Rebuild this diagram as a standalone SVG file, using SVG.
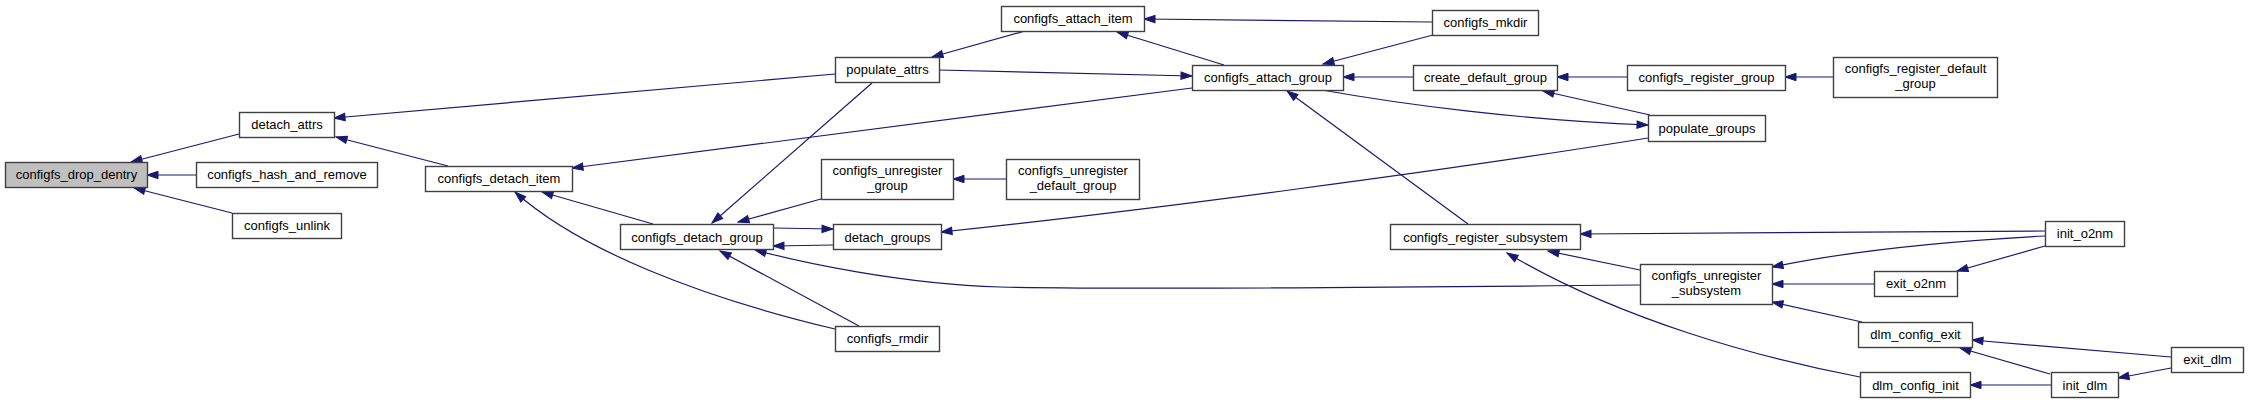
<svg xmlns="http://www.w3.org/2000/svg" width="2248" height="404" viewBox="0 0 2248 404">
<style>
.node rect{fill:#ffffff;stroke:#404040;stroke-width:1.4}
.node rect.hl{fill:#bfbfbf}
.node text{font-family:"Liberation Sans",Arial,Helvetica,sans-serif;font-size:13px;fill:#000000;text-anchor:middle}
.edges path{fill:none;stroke:#191970;stroke-width:1.2;marker-end:url(#ah)}
</style>
<defs>
<marker id="ah" viewBox="0 0 12 9" refX="11.5" refY="4.5" markerWidth="12" markerHeight="9" markerUnits="userSpaceOnUse" orient="auto" overflow="visible">
<path d="M0.5,0.8 L11.5,4.5 L0.5,8.2 Z" fill="#191970" stroke="#191970" stroke-width="1"/>
</marker>
</defs>
<rect x="0" y="0" width="2248" height="404" fill="#ffffff"/>
<g class="edges" id="edges">
<path d="M239,134 L131,162"/>
<path d="M196,175 L147,175"/>
<path d="M232,213 L134,188"/>
<path d="M835,74 L334,118"/>
<path d="M448,166 L336,137"/>
<path d="M1192,88 L572,168"/>
<path d="M653,224 L542,192"/>
<path d="M835,329 C700,297 580,250 515,192"/>
<path d="M872,83 L712,223"/>
<path d="M821,199 L738,222"/>
<path d="M773,228 L833,229"/>
<path d="M833,245 L773,246"/>
<path d="M1640,285 C1250,289 1100,289 1000,287 C900,284 800,262 755,250"/>
<path d="M859,326 L720,251"/>
<path d="M1006,179 L953,179"/>
<path d="M1432,22 L1144,19"/>
<path d="M1025,31 L932,57"/>
<path d="M1224,65 L1117,32"/>
<path d="M939,70 L1192,76"/>
<path d="M1433,35 L1323,64"/>
<path d="M1413,77 L1343,77"/>
<path d="M1322,90 C1400,104 1520,120 1648,125"/>
<path d="M1468,224 L1287,91"/>
<path d="M1648,138 C1450,170 1150,210 941,232"/>
<path d="M1627,77 L1557,77"/>
<path d="M1833,77 L1785,77"/>
<path d="M1650,115 L1543,91"/>
<path d="M2045,231 L1580,234"/>
<path d="M2045,236 C1950,241 1850,251 1772,267"/>
<path d="M2045,246 L1957,271"/>
<path d="M1874,284 L1772,284"/>
<path d="M1862,322 L1772,302"/>
<path d="M1640,270 L1548,251"/>
<path d="M1860,377 C1760,358 1620,320 1507,253"/>
<path d="M2171,357 L1972,340"/>
<path d="M2050,374 L1960,348"/>
<path d="M2051,385 L1970,385"/>
<path d="M2171,368 L2118,378"/>
</g>
<g class="node" id="configfs_drop_dentry"><rect class="hl" x="5.5" y="162.5" width="142" height="25"/><text x="76.5" y="179">configfs_drop_dentry</text></g>
<g class="node" id="detach_attrs"><rect x="239.5" y="112.5" width="95" height="25"/><text x="287" y="129">detach_attrs</text></g>
<g class="node" id="configfs_hash_and_remove"><rect x="196.5" y="162.5" width="181" height="25"/><text x="287" y="179">configfs_hash_and_remove</text></g>
<g class="node" id="configfs_unlink"><rect x="232.5" y="213.5" width="109" height="25"/><text x="287" y="230">configfs_unlink</text></g>
<g class="node" id="configfs_detach_item"><rect x="425.5" y="166.5" width="147" height="25"/><text x="499" y="183">configfs_detach_item</text></g>
<g class="node" id="populate_attrs"><rect x="835.5" y="57.5" width="104" height="25"/><text x="887.5" y="74">populate_attrs</text></g>
<g class="node" id="configfs_attach_item"><rect x="1001.5" y="6.5" width="143" height="25"/><text x="1073" y="23">configfs_attach_item</text></g>
<g class="node" id="configfs_detach_group"><rect x="620.5" y="224.5" width="153" height="25"/><text x="697" y="241.5">configfs_detach_group</text></g>
<g class="node" id="configfs_unregister_group"><rect x="821.5" y="159.5" width="132" height="40"/><text x="887.5" y="175">configfs_unregister</text><text x="887.5" y="189.5">_group</text></g>
<g class="node" id="configfs_unregister_default_group"><rect x="1006.5" y="159.5" width="133" height="40"/><text x="1073" y="175">configfs_unregister</text><text x="1073" y="189.5">_default_group</text></g>
<g class="node" id="detach_groups"><rect x="833.5" y="224.5" width="108" height="25"/><text x="887.5" y="241.5">detach_groups</text></g>
<g class="node" id="configfs_rmdir"><rect x="835.5" y="326.5" width="104" height="25"/><text x="887.5" y="343">configfs_rmdir</text></g>
<g class="node" id="configfs_attach_group"><rect x="1192.5" y="65.5" width="151" height="25"/><text x="1268" y="82">configfs_attach_group</text></g>
<g class="node" id="configfs_mkdir"><rect x="1432.5" y="10.5" width="106" height="25"/><text x="1485.5" y="27">configfs_mkdir</text></g>
<g class="node" id="create_default_group"><rect x="1413.5" y="65.5" width="144" height="25"/><text x="1485.5" y="82">create_default_group</text></g>
<g class="node" id="configfs_register_group"><rect x="1627.5" y="65.5" width="158" height="25"/><text x="1706.5" y="82">configfs_register_group</text></g>
<g class="node" id="configfs_register_default_group"><rect x="1833.5" y="57.5" width="164" height="40"/><text x="1915.5" y="73">configfs_register_default</text><text x="1915.5" y="87.5">_group</text></g>
<g class="node" id="populate_groups"><rect x="1648.5" y="115.5" width="117" height="26"/><text x="1707" y="132.5">populate_groups</text></g>
<g class="node" id="configfs_register_subsystem"><rect x="1390.5" y="224.5" width="190" height="25"/><text x="1485.5" y="241.5">configfs_register_subsystem</text></g>
<g class="node" id="configfs_unregister_subsystem"><rect x="1640.5" y="264.5" width="132" height="40"/><text x="1706.5" y="280">configfs_unregister</text><text x="1706.5" y="294.5">_subsystem</text></g>
<g class="node" id="init_o2nm"><rect x="2045.5" y="221.5" width="79" height="25"/><text x="2085" y="238">init_o2nm</text></g>
<g class="node" id="exit_o2nm"><rect x="1874.5" y="271.5" width="83" height="25"/><text x="1916" y="288">exit_o2nm</text></g>
<g class="node" id="dlm_config_exit"><rect x="1858.5" y="322.5" width="114" height="25"/><text x="1915.5" y="339">dlm_config_exit</text></g>
<g class="node" id="dlm_config_init"><rect x="1860.5" y="372.5" width="110" height="25"/><text x="1915.5" y="389.5">dlm_config_init</text></g>
<g class="node" id="init_dlm"><rect x="2051.5" y="372.5" width="67" height="25"/><text x="2085" y="389.5">init_dlm</text></g>
<g class="node" id="exit_dlm"><rect x="2171.5" y="347.5" width="72" height="25"/><text x="2207.5" y="364">exit_dlm</text></g>
</svg>
